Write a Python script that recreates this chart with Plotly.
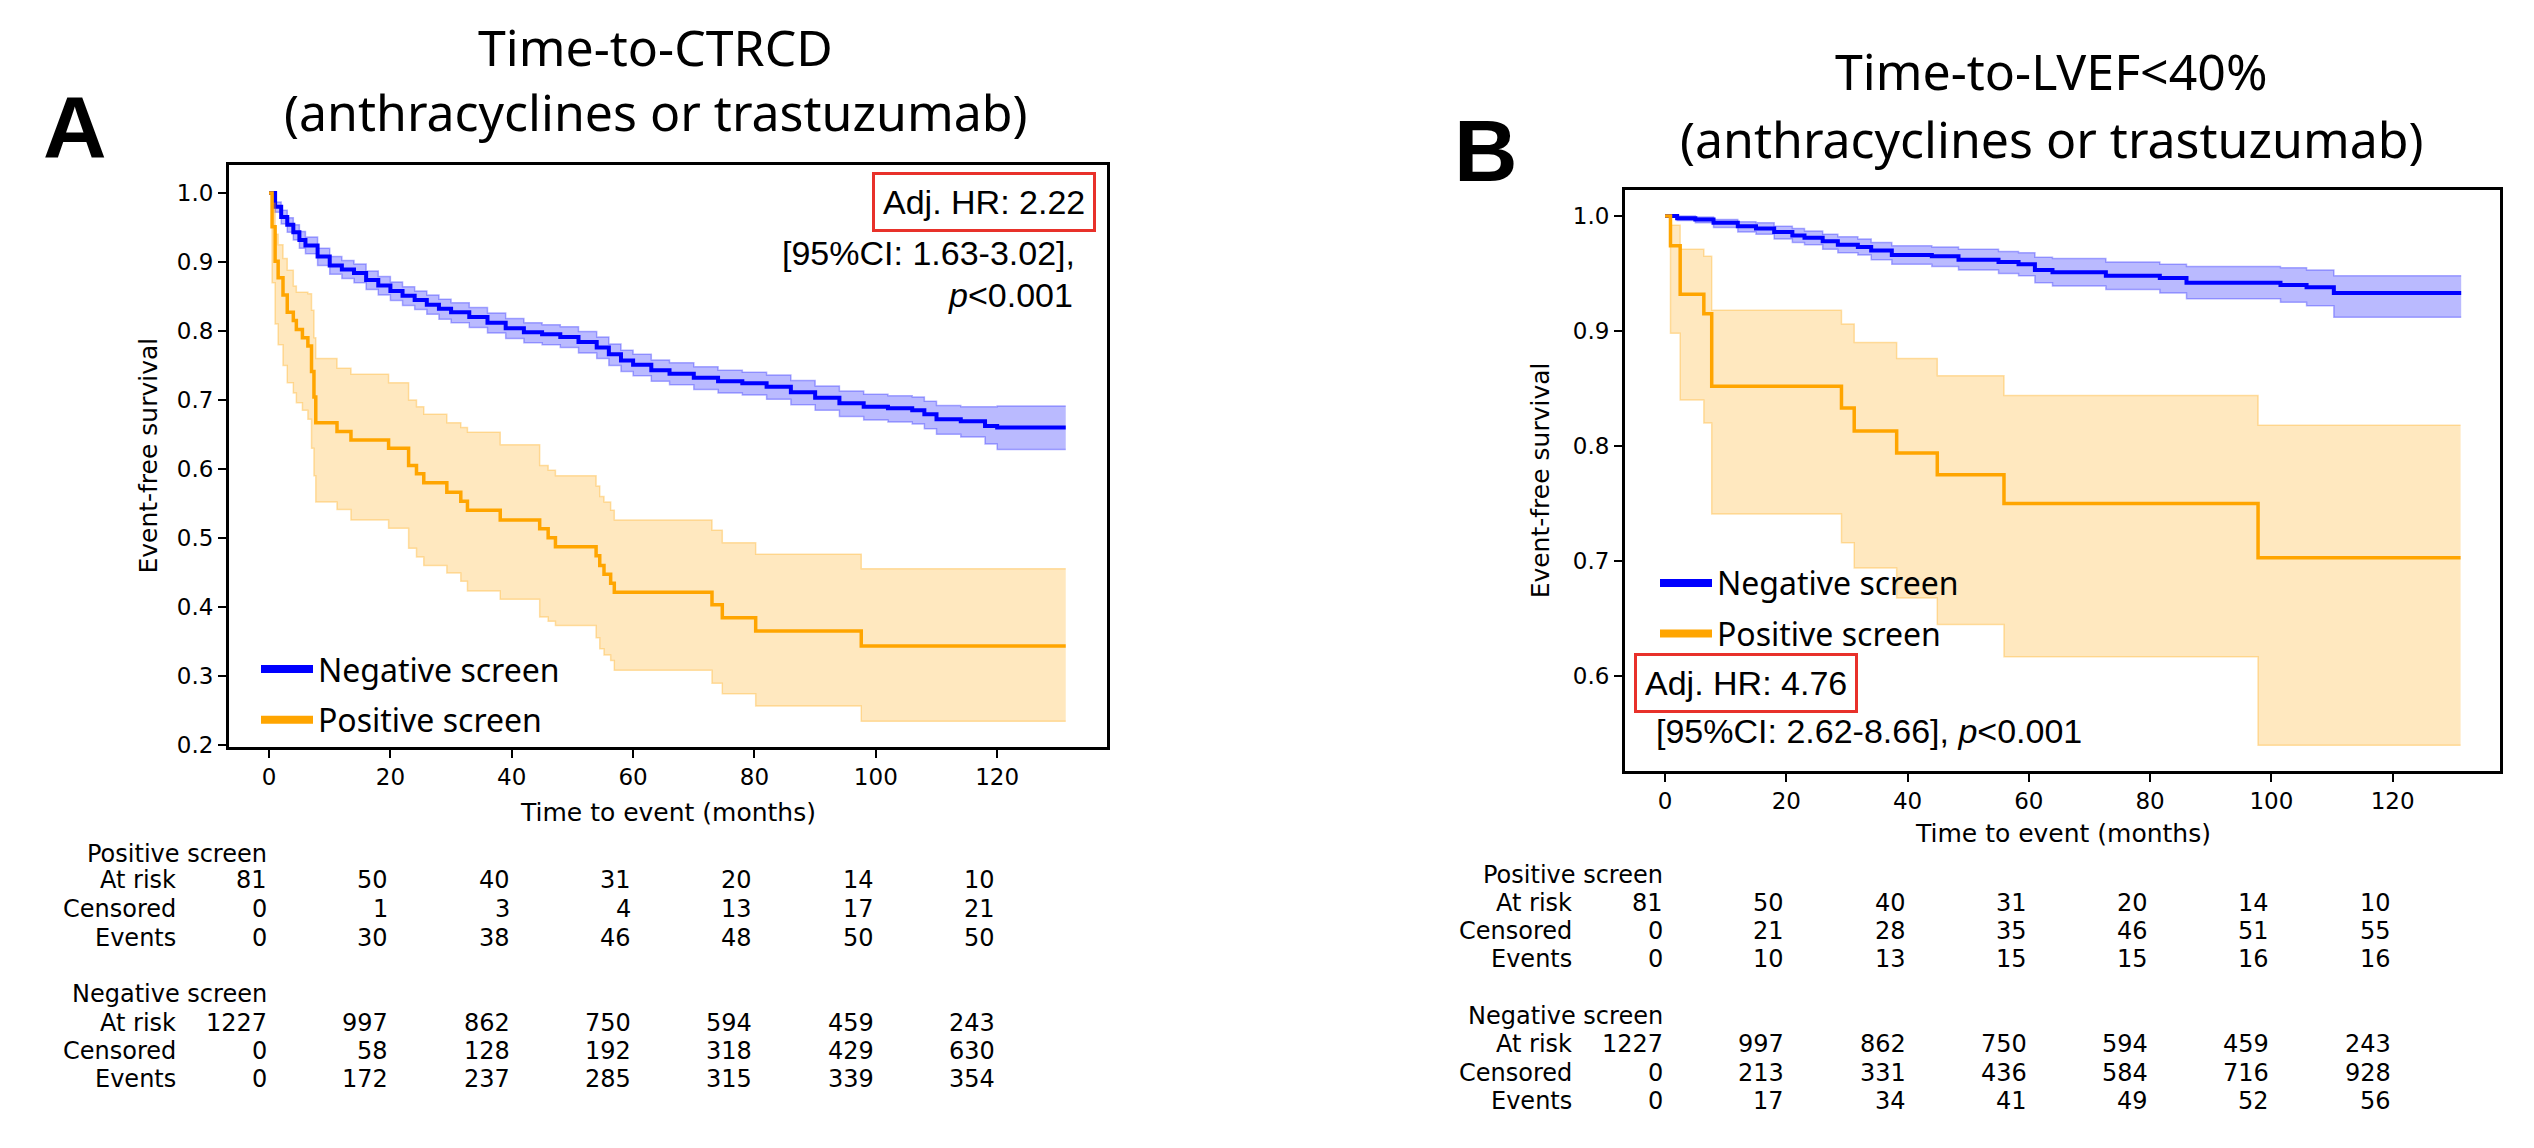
import plotly.graph_objects as go

W, H = 2534, 1148

# ---------------- Panel A: Time-to-CTRCD ----------------
a_neg_t = [0, 1, 2, 3, 4, 5, 6, 8, 10, 12, 14, 16, 18, 20, 22, 24, 26, 28, 30, 33, 36, 39, 42, 45, 48, 51,
           54, 56, 58, 60, 63, 66, 70, 74, 78, 82, 86, 90, 94, 98, 102, 106, 108, 110, 114, 118, 120, 131.3]
a_neg_s = [1.000, 0.980, 0.965, 0.954, 0.943, 0.932, 0.924, 0.908, 0.895, 0.889, 0.884, 0.874, 0.866, 0.858,
           0.851, 0.845, 0.838, 0.832, 0.827, 0.820, 0.812, 0.804, 0.798, 0.795, 0.791, 0.784, 0.776, 0.766,
           0.757, 0.751, 0.743, 0.738, 0.732, 0.727, 0.724, 0.719, 0.711, 0.703, 0.695, 0.690, 0.688, 0.685,
           0.679, 0.672, 0.669, 0.662, 0.660, 0.660]
a_neg_hi = [1.000, 0.987, 0.975, 0.964, 0.954, 0.944, 0.936, 0.920, 0.908, 0.902, 0.897, 0.887, 0.879, 0.871,
            0.864, 0.858, 0.852, 0.846, 0.841, 0.834, 0.826, 0.818, 0.812, 0.809, 0.806, 0.799, 0.791, 0.781,
            0.772, 0.766, 0.758, 0.754, 0.748, 0.743, 0.740, 0.736, 0.728, 0.720, 0.713, 0.708, 0.706, 0.704,
            0.698, 0.692, 0.690, 0.690, 0.691, 0.691]
a_neg_lo = [1.000, 0.972, 0.955, 0.943, 0.932, 0.920, 0.912, 0.895, 0.882, 0.876, 0.870, 0.860, 0.852, 0.844,
            0.837, 0.831, 0.824, 0.817, 0.812, 0.805, 0.797, 0.789, 0.783, 0.780, 0.776, 0.768, 0.760, 0.750,
            0.741, 0.735, 0.727, 0.722, 0.715, 0.710, 0.707, 0.701, 0.693, 0.685, 0.676, 0.671, 0.668, 0.665,
            0.658, 0.650, 0.646, 0.636, 0.628, 0.628]

a_pos_t = [0, 0.5, 1.0, 1.5, 2.3, 3.0, 4.0, 4.5, 5.5, 6.4, 7.0, 7.4, 7.7, 11.2, 13.5, 19.7, 23.0, 24.3, 25.5,
           29.3, 31.6, 32.7, 38.1, 44.6, 46.0, 47.2, 53.9, 54.5, 55.2, 56.3, 56.9, 73.0, 74.7, 80.2, 97.6, 131.3]
a_pos_s = [1.000, 0.951, 0.901, 0.877, 0.852, 0.827, 0.815, 0.802, 0.790, 0.778, 0.741, 0.704, 0.667, 0.654,
           0.642, 0.630, 0.605, 0.593, 0.580, 0.566, 0.553, 0.540, 0.526, 0.513, 0.500, 0.487, 0.474, 0.460,
           0.447, 0.434, 0.421, 0.403, 0.384, 0.365, 0.343, 0.343]
a_pos_hi = [1.000, 0.985, 0.940, 0.925, 0.905, 0.888, 0.865, 0.856, 0.856, 0.854, 0.830, 0.790, 0.760, 0.746,
            0.737, 0.725, 0.700, 0.690, 0.679, 0.667, 0.660, 0.653, 0.635, 0.605, 0.598, 0.590, 0.575, 0.560,
            0.552, 0.540, 0.526, 0.511, 0.493, 0.476, 0.455, 0.455]
a_pos_lo = [1.000, 0.870, 0.810, 0.780, 0.750, 0.725, 0.710, 0.696, 0.685, 0.672, 0.630, 0.590, 0.552, 0.541,
            0.526, 0.514, 0.485, 0.472, 0.460, 0.449, 0.437, 0.423, 0.411, 0.385, 0.379, 0.373, 0.355, 0.339,
            0.330, 0.322, 0.308, 0.289, 0.274, 0.256, 0.234, 0.234]

# ---------------- Panel B: Time-to-LVEF<40% ----------------
b_neg_t = [0, 2, 5, 8, 12, 15, 18, 21, 23, 26, 28.5, 31.8, 34, 37.4, 44, 48.4, 55, 58.3, 61, 63.9, 72.7,
           81.6, 86, 101.5, 105.8, 110.3, 131.3]
b_neg_s = [1.000, 0.998, 0.997, 0.994, 0.991, 0.989, 0.986, 0.983, 0.981, 0.978, 0.975, 0.973, 0.970, 0.966,
           0.965, 0.962, 0.960, 0.958, 0.953, 0.951, 0.948, 0.946, 0.942, 0.940, 0.938, 0.933, 0.933]
b_neg_lo = [1.000, 0.996, 0.994, 0.990, 0.986, 0.984, 0.980, 0.977, 0.975, 0.971, 0.968, 0.966, 0.962, 0.958,
            0.956, 0.953, 0.950, 0.948, 0.942, 0.939, 0.936, 0.933, 0.928, 0.925, 0.922, 0.912, 0.912]
b_neg_hi = [1.000, 1.000, 0.999, 0.997, 0.995, 0.994, 0.991, 0.989, 0.987, 0.984, 0.982, 0.980, 0.977, 0.974,
            0.973, 0.971, 0.969, 0.968, 0.964, 0.963, 0.960, 0.958, 0.956, 0.955, 0.953, 0.948, 0.948]

b_pos_t = [0, 0.9, 2.5, 6.4, 7.7, 29.1, 31.2, 38.2, 44.9, 55.9, 97.8, 131.2]
b_pos_s = [1.000, 0.974, 0.932, 0.915, 0.852, 0.833, 0.813, 0.794, 0.775, 0.750, 0.703, 0.703]
b_pos_hi = [1.000, 0.992, 0.971, 0.965, 0.918, 0.906, 0.890, 0.876, 0.861, 0.844, 0.818, 0.818]
b_pos_lo = [1.000, 0.898, 0.840, 0.820, 0.741, 0.716, 0.694, 0.668, 0.645, 0.617, 0.540, 0.540]

# ---------------- Risk tables ----------------
time_ticks = [0, 20, 40, 60, 80, 100, 120]
row_names = ["At risk", "Censored", "Events"]

a_pos_table = [[81, 50, 40, 31, 20, 14, 10],
               [0, 1, 3, 4, 13, 17, 21],
               [0, 30, 38, 46, 48, 50, 50]]
a_neg_table = [[1227, 997, 862, 750, 594, 459, 243],
               [0, 58, 128, 192, 318, 429, 630],
               [0, 172, 237, 285, 315, 339, 354]]
b_pos_table = [[81, 50, 40, 31, 20, 14, 10],
               [0, 21, 28, 35, 46, 51, 55],
               [0, 10, 13, 15, 15, 16, 16]]
b_neg_table = [[1227, 997, 862, 750, 594, 459, 243],
               [0, 213, 331, 436, 584, 716, 928],
               [0, 17, 34, 41, 49, 52, 56]]

BLUE = "#0000FF"
ORANGE = "#FFA500"
BLUE_FILL = "rgba(0,0,255,0.27)"
BLUE_EDGE = "rgba(0,0,255,0.30)"
ORANGE_FILL = "rgba(255,165,0,0.25)"
ORANGE_EDGE = "rgba(255,165,0,0.32)"

fig = go.Figure()


def add_km(t, s, lo, hi, color, fill, edge, xa, ya, width):
    fig.add_trace(go.Scatter(x=t, y=lo, mode="lines", line=dict(shape="hv", color=edge, width=1.5),
                             hoverinfo="skip", showlegend=False, xaxis=xa, yaxis=ya))
    fig.add_trace(go.Scatter(x=t, y=hi, mode="lines", line=dict(shape="hv", color=edge, width=1.5),
                             fill="tonexty", fillcolor=fill, hoverinfo="skip", showlegend=False,
                             xaxis=xa, yaxis=ya))
    fig.add_trace(go.Scatter(x=t, y=s, mode="lines", line=dict(shape="hv", color=color, width=width),
                             showlegend=False, xaxis=xa, yaxis=ya))


add_km(a_neg_t, a_neg_s, a_neg_lo, a_neg_hi, BLUE, BLUE_FILL, BLUE_EDGE, "x", "y", 4)
add_km(a_pos_t, a_pos_s, a_pos_lo, a_pos_hi, ORANGE, ORANGE_FILL, ORANGE_EDGE, "x", "y", 3.5)
add_km(b_neg_t, b_neg_s, b_neg_lo, b_neg_hi, BLUE, BLUE_FILL, BLUE_EDGE, "x2", "y2", 4)
add_km(b_pos_t, b_pos_s, b_pos_lo, b_pos_hi, ORANGE, ORANGE_FILL, ORANGE_EDGE, "x2", "y2", 3.5)

# legend entries
for lg, xa, ya in [("legend", "x", "y"), ("legend2", "x2", "y2")]:
    fig.add_trace(go.Scatter(x=[None], y=[None], mode="lines", name="Negative screen",
                             line=dict(color=BLUE, width=8), legend=lg, legendgroup=lg + "n",
                             xaxis=xa, yaxis=ya))
    fig.add_trace(go.Scatter(x=[None], y=[None], mode="lines", name="Positive screen",
                             line=dict(color=ORANGE, width=8), legend=lg, legendgroup=lg + "p",
                             xaxis=xa, yaxis=ya))

TICKFONT = dict(family="DejaVu Sans", size=23, color="black")
axis_common = dict(showgrid=False, zeroline=False, showline=True, mirror=True, linecolor="black",
                   linewidth=3, ticks="outside", ticklen=8, tickwidth=2, tickcolor="black",
                   tickfont=TICKFONT)

legend_common = dict(xanchor="left", yanchor="top", bgcolor="rgba(0,0,0,0)", tracegroupgap=6,
                     itemwidth=52, font=dict(family="Noto Sans", size=32, color="black"))

fig.update_layout(
    width=W, height=H, margin=dict(l=0, r=0, t=0, b=0),
    paper_bgcolor="white", plot_bgcolor="white",
    xaxis=dict(domain=[229 / W, 1107 / W], range=[-6.6, 138.1], tickvals=time_ticks, **axis_common),
    yaxis=dict(domain=[1 - 754 / H, 1 - 167 / H], range=[0.197, 1.040], dtick=0.1, tickformat=".1f",
               **axis_common),
    xaxis2=dict(domain=[1625 / W, 2500 / W], range=[-6.6, 137.7], tickvals=time_ticks, anchor="y2",
                **axis_common),
    yaxis2=dict(domain=[1 - 778 / H, 1 - 192 / H], range=[0.518, 1.0224], dtick=0.1, tickformat=".1f",
                anchor="x2", **axis_common),
    legend=dict(x=256 / W, y=1 - 648 / H, **legend_common),
    legend2=dict(x=1655 / W, y=1 - 561 / H, **legend_common),
    showlegend=True,
)

ann = []


def txt(text, x, y, size, family="DejaVu Sans", xanchor="center", yanchor="middle", xref="paper",
        **kw):
    ann.append(dict(text=text, x=x, y=y, xref=xref, yref="paper", xanchor=xanchor, yanchor=yanchor,
                    showarrow=False, font=dict(family=family, size=size, color="black"), **kw))


# titles
TF = "Noto Sans"
txt("Time-to-CTRCD", 655 / W, 1 - 47 / H, 50, TF)
txt("(anthracyclines or trastuzumab)", 655 / W, 1 - 113 / H, 50, TF)
txt("Time-to-LVEF&lt;40%", 2051 / W, 1 - 72 / H, 50, TF)
txt("(anthracyclines or trastuzumab)", 2051 / W, 1 - 140 / H, 50, TF)

# panel letters
txt("<b>A</b>", 75 / W, 1 - 128 / H, 88, "Liberation Sans")
txt("<b>B</b>", 1486 / W, 1 - 152 / H, 88, "Liberation Sans")

# axis titles
txt("Time to event (months)", 668 / W, 1 - 820 / H, 25)
txt("Event-free survival", 149 / W, 1 - 460 / H, 25, textangle=-90)
txt("Time to event (months)", 2063 / W, 1 - 842 / H, 25)
txt("Event-free survival", 1540 / W, 1 - 485 / H, 25, textangle=-90)

# hazard ratio annotations
AF = "Liberation Sans"
RED = "#E8312A"
txt("Adj. HR: 2.22", 1096 / W, 1 - 204 / H, 34, AF, xanchor="right", bordercolor=RED, borderwidth=3,
    borderpad=8)
txt("[95%CI: 1.63-3.02],", 1077 / W, 1 - 255 / H, 34, AF, xanchor="right")
txt("<i>p</i>&lt;0.001", 1075 / W, 1 - 298 / H, 34, AF, xanchor="right")
txt("Adj. HR: 4.76", 1634 / W, 1 - 689.5 / H, 34, AF, xanchor="left", bordercolor=RED, borderwidth=3,
    borderpad=8)
txt("[95%CI: 2.62-8.66], <i>p</i>&lt;0.001", 1654 / W, 1 - 738 / H, 34, AF, xanchor="left")

# risk tables
TS = 24


def risk_table(xref, label_x, rows_y, pos_table, neg_table):
    for block, (title, table) in enumerate([("Positive screen", pos_table), ("Negative screen", neg_table)]):
        ys = rows_y[block * 4:(block + 1) * 4]
        txt(title, 0, 1 - ys[0] / H, TS, xanchor="right", xref=xref)
        for r, name in enumerate(row_names):
            y = 1 - ys[r + 1] / H
            txt(name, label_x, y, TS, xanchor="right")
            for tv, val in zip(time_ticks, table[r]):
                txt(str(val), tv, y, TS, xanchor="right", xref=xref)


risk_table("x", 177.5 / W, [862, 889, 918, 947, 1004, 1033, 1061, 1089], a_pos_table, a_neg_table)
risk_table("x2", 1574 / W, [883, 912, 940, 968, 1026, 1054, 1083, 1112], b_pos_table, b_neg_table)

fig.update_layout(annotations=ann)

fig.write_html("out.html", config={"displayModeBar": False},
               post_script="document.body.style.margin='0';document.body.style.overflow='hidden';")
